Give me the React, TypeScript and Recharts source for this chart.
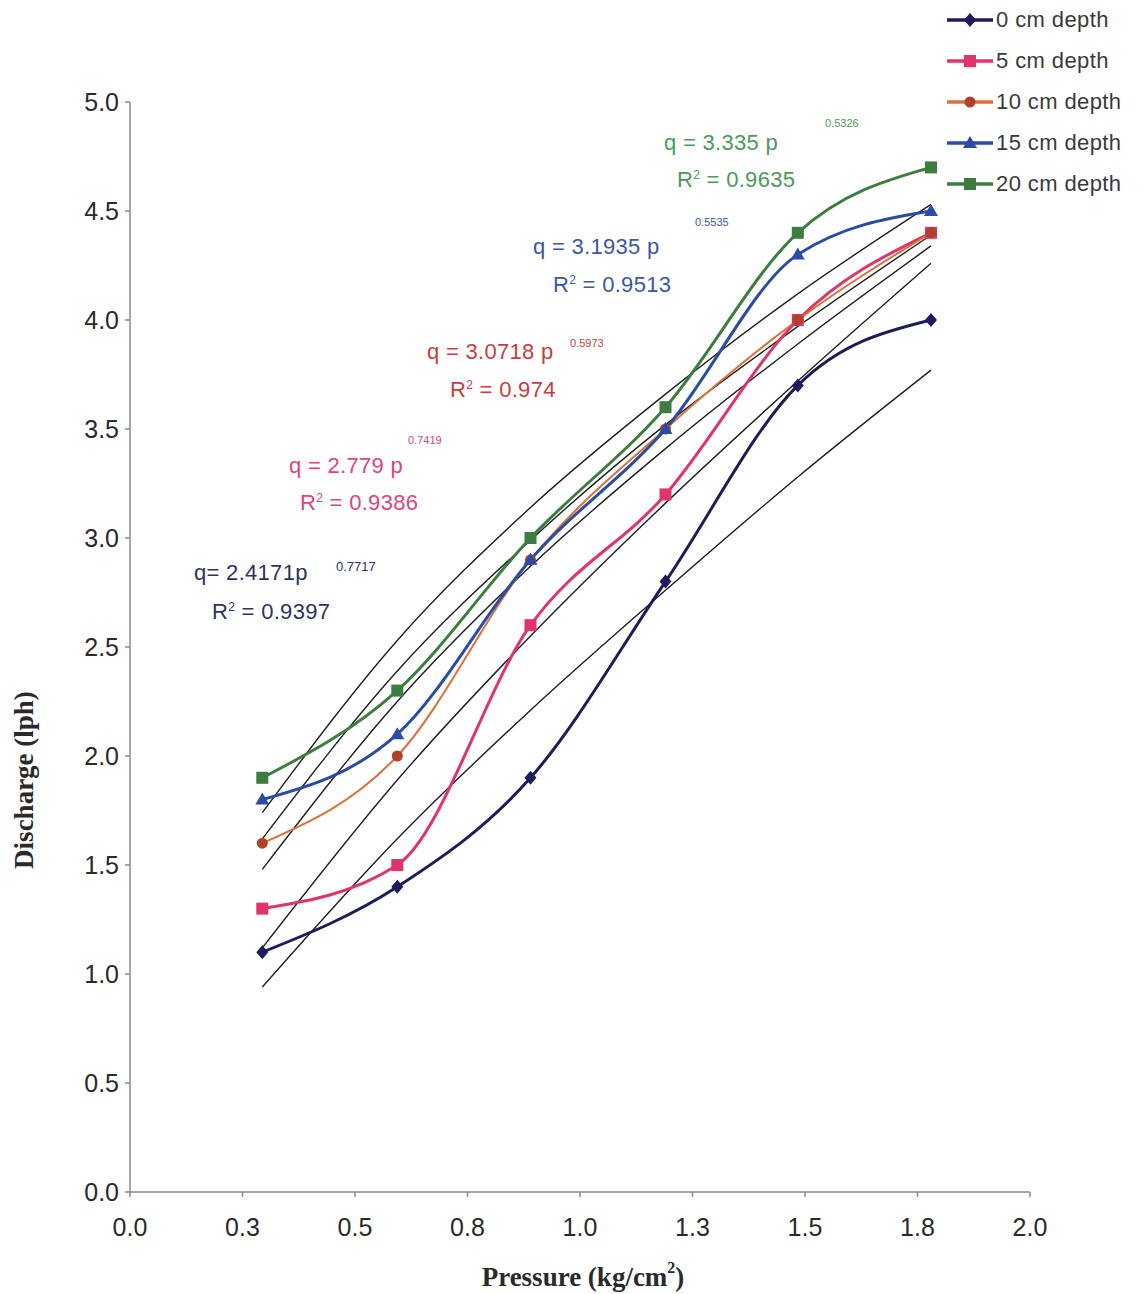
import React from 'react';
import { LineChart, Line, XAxis, YAxis } from 'recharts';

// pressure (kg/cm2) at which discharge was measured
const pressure = [0.294, 0.594, 0.89, 1.19, 1.484, 1.78];

// measured discharge (lph) per lateral depth
const depth0 = [1.1, 1.4, 1.9, 2.8, 3.7, 4.0];
const depth5 = [1.3, 1.5, 2.6, 3.2, 4.0, 4.4];
const depth10 = [1.6, 2.0, 2.9, 3.5, 4.0, 4.4];
const depth15 = [1.8, 2.1, 2.9, 3.5, 4.3, 4.5];
const depth20 = [1.9, 2.3, 3.0, 3.6, 4.4, 4.7];

// power trend lines
const trend0 = [0.94, 1.62, 2.21, 2.76, 3.28, 3.77];
const trend5 = [1.12, 1.89, 2.55, 3.16, 3.72, 4.26];
const trend10 = [1.48, 2.25, 2.87, 3.41, 3.89, 4.34];
const trend15 = [1.62, 2.39, 2.99, 3.52, 3.97, 4.39];
const trend20 = [1.74, 2.53, 3.14, 3.66, 4.12, 4.53];

const seriesNames = ['0 cm depth', '5 cm depth', '10 cm depth', '15 cm depth', '20 cm depth'];

// equation labels
const eqLeft = ['q= 2.4171p', 'q = 2.779 p', 'q = 3.0718 p', 'q = 3.1935 p', 'q = 3.335 p'];
const eqPower = ['0.7717', '0.7419', '0.5973', '0.5535', '0.5326'];
const rSquared = ['0.9397', '0.9386', '0.974', '0.9513', '0.9635'];

const xTicks = [0, 0.25, 0.5, 0.75, 1, 1.25, 1.5, 1.75, 2];
const yTicks = [0, 0.5, 1, 1.5, 2, 2.5, 3, 3.5, 4, 4.5, 5];

const rows = pressure.map((p, i) => ({
  p,
  d0: depth0[i],
  d5: depth5[i],
  d10: depth10[i],
  d15: depth15[i],
  d20: depth20[i],
  t0: trend0[i],
  t5: trend5[i],
  t10: trend10[i],
  t15: trend15[i],
  t20: trend20[i],
}));

type Shape = 'diamond' | 'square' | 'circle' | 'triangle';

const series: { key: string; trend: string; line: string; mark: string; text: string; shape: Shape; width: number }[] = [
  { key: 'd0', trend: 't0', line: '#1d1d5c', mark: '#1d1d5c', text: '#2c3463', shape: 'diamond', width: 3 },
  { key: 'd5', trend: 't5', line: '#e2336a', mark: '#e2336a', text: '#e0457c', shape: 'square', width: 3 },
  { key: 'd10', trend: 't10', line: '#dc7038', mark: '#b3402b', text: '#c6403c', shape: 'circle', width: 2 },
  { key: 'd15', trend: 't15', line: '#2a4ca6', mark: '#2a4ca6', text: '#3a58a6', shape: 'triangle', width: 3 },
  { key: 'd20', trend: 't20', line: '#3d7e40', mark: '#3d7e40', text: '#4c9a5c', shape: 'square', width: 3 },
];

// label anchors inside the wrapper (left x, centre y of equation / R2 line)
const labelPos = [
  { qx: 186, qy: 565, sx: 328, sy: 559, rx: 204, ry: 599 },
  { qx: 281, qy: 458, sx: 400, sy: 432, rx: 292, ry: 490 },
  { qx: 419, qy: 344, sx: 562, sy: 335, rx: 442, ry: 377 },
  { qx: 525, qy: 239, sx: 687, sy: 214, rx: 545, ry: 272 },
  { qx: 656, qy: 135, sx: 817, sy: 115, rx: 669, ry: 167 },
];

function Marker({ shape, cx, cy, fill }: { shape: Shape; cx: number; cy: number; fill: string }) {
  if (shape === 'diamond')
    return <polygon points={`${cx},${cy - 7} ${cx + 6},${cy} ${cx},${cy + 7} ${cx - 6},${cy}`} fill={fill} />;
  if (shape === 'square') return <rect x={cx - 6} y={cy - 6} width={12} height={12} fill={fill} />;
  if (shape === 'circle') return <circle cx={cx} cy={cy} r={5.5} fill={fill} />;
  return <polygon points={`${cx},${cy - 7} ${cx + 7},${cy + 5} ${cx - 7},${cy + 5}`} fill={fill} />;
}

const sans = '"Liberation Sans", Arial, sans-serif';
const serif = '"Liberation Serif", "Times New Roman", serif';

export default function App() {
  return (
    <div style={{ position: 'relative', width: 1136, height: 1286, fontFamily: sans, background: '#fff' }}>
      <LineChart width={1136} height={1286} data={rows} margin={{ top: 94, right: 114, bottom: 42, left: 42 }}>
        <XAxis
          dataKey="p"
          type="number"
          domain={[0, 2]}
          ticks={xTicks}
          tickFormatter={(v: number) => v.toFixed(1)}
          height={60}
          tickSize={5}
          tickMargin={21}
          stroke="#8a8a8a"
          strokeWidth={1.5}
          tick={{ fill: '#2a2a2a', fontSize: 25, fontFamily: sans }}
          label={{
            content: (props: any) => {
              const vb = props.viewBox || { x: 0, y: 0, width: 0 };
              return (
                <text
                  x={vb.x + vb.width / 2 + 3}
                  y={vb.y + 85}
                  textAnchor="middle"
                  dominantBaseline="central"
                  fontFamily={serif}
                  fontWeight="bold"
                  fontSize={27}
                  fill="#2a2a2a"
                >
                  Pressure (kg/cm
                  <tspan fontSize={16} dy={-10}>2</tspan>
                  <tspan dy={10}>)</tspan>
                </text>
              );
            },
          }}
        />
        <YAxis
          type="number"
          domain={[0, 5]}
          ticks={yTicks}
          tickFormatter={(v: number) => v.toFixed(1)}
          width={80}
          tickSize={5}
          tickMargin={6}
          stroke="#8a8a8a"
          strokeWidth={1.5}
          tick={{ fill: '#2a2a2a', fontSize: 25, fontFamily: sans }}
          label={{
            content: (props: any) => {
              const vb = props.viewBox || { x: 0, y: 0, height: 0 };
              const cx = vb.x - 26;
              const cy = vb.y + vb.height / 2 + 133;
              return (
                <text
                  x={cx}
                  y={cy}
                  transform={`rotate(-90 ${cx} ${cy})`}
                  textAnchor="middle"
                  dominantBaseline="central"
                  fontFamily={serif}
                  fontWeight="bold"
                  fontSize={27}
                  fill="#2a2a2a"
                >
                  Discharge (lph)
                </text>
              );
            },
          }}
        />
        {series.map((s) => (
          <Line
            key={s.trend}
            dataKey={s.trend}
            type="monotone"
            stroke="#1f1f1f"
            strokeWidth={1.4}
            dot={false}
            activeDot={false}
            legendType="none"
            isAnimationActive={false}
          />
        ))}
        {series.map((s) => (
          <Line
            key={s.key}
            dataKey={s.key}
            type="monotone"
            stroke={s.line}
            strokeWidth={s.width}
            dot={(props: any) => (
              <Marker key={`${s.key}-${props.index}`} shape={s.shape} cx={props.cx} cy={props.cy} fill={s.mark} />
            )}
            activeDot={false}
            isAnimationActive={false}
          />
        ))}
      </LineChart>

      {/* legend */}
      <div style={{ position: 'absolute', left: 938, top: 0 }}>
        {series.map((s, i) => (
          <div key={s.key} style={{ position: 'absolute', left: 0, top: 12 + i * 41 - 14, height: 28, width: 200, display: 'flex', alignItems: 'center' }}>
            <svg width={48} height={28} style={{ display: 'block' }}>
              <line x1={1} y1={14} x2={47} y2={14} stroke={s.line} strokeWidth={3.5} />
              <Marker shape={s.shape} cx={24} cy={14} fill={s.mark} />
            </svg>
            <span style={{ fontSize: 22, color: '#3a3a3a', marginLeft: 2, letterSpacing: 0.4 }}>{seriesNames[i]}</span>
          </div>
        ))}
      </div>

      {/* trend line equations */}
      {series.map((s, i) => {
        const pos = labelPos[i];
        return (
          <React.Fragment key={`eq-${s.key}`}>
            <span style={{ position: 'absolute', left: pos.qx, top: pos.qy - 11, fontSize: 22, lineHeight: '22px', color: s.text, whiteSpace: 'nowrap', letterSpacing: 0.3 }}>
              {eqLeft[i]}
            </span>
            <span style={{ position: 'absolute', left: pos.sx, top: pos.sy - 6, fontSize: i === 0 ? 13 : 11, lineHeight: '12px', color: s.text, whiteSpace: 'nowrap' }}>
              {eqPower[i]}
            </span>
            <span style={{ position: 'absolute', left: pos.rx, top: pos.ry - 11, fontSize: 22, lineHeight: '22px', color: s.text, whiteSpace: 'nowrap', letterSpacing: 0.3 }}>
              R<span style={{ fontSize: 12, verticalAlign: 8 }}>2</span> = {rSquared[i]}
            </span>
          </React.Fragment>
        );
      })}
    </div>
  );
}
